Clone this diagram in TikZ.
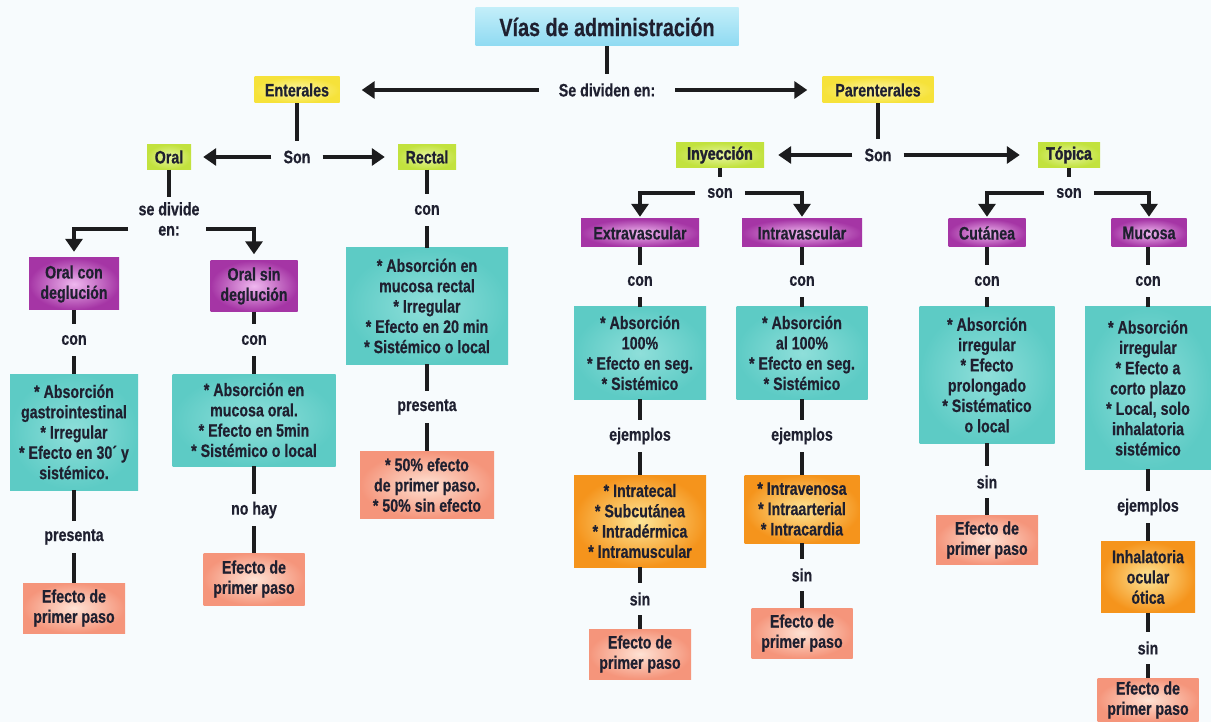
\documentclass[tikz,border=0pt]{standalone}
\usepackage{fontspec}
\setmainfont[FakeStretch=0.79,FakeBold=0.5]{Liberation Sans}
\newfontfamily\negrita[FakeStretch=0.79,FakeBold=2]{Liberation Sans}
\usetikzlibrary{arrows.meta}

\definecolor{fondo}{HTML}{F7FBFD}
\definecolor{texto}{HTML}{1F2030}
\definecolor{negro}{HTML}{1C1C1E}
\definecolor{tituloA}{HTML}{C2EEF9}
\definecolor{tituloB}{HTML}{8FDAF2}
\definecolor{amarilloC}{HTML}{FDF6A6}
\definecolor{amarilloB}{HTML}{F6E23A}
\definecolor{verdeC}{HTML}{E8F6A4}
\definecolor{verdeB}{HTML}{C2E23E}
\definecolor{moradoC}{HTML}{EFB8EF}
\definecolor{moradoB}{HTML}{A535A5}
\definecolor{turquesaC}{HTML}{8FDFDA}
\definecolor{turquesaB}{HTML}{5DCBC5}
\definecolor{naranjaC}{HTML}{FDE596}
\definecolor{naranjaB}{HTML}{F5941C}
\definecolor{salmonC}{HTML}{FEE2D4}
\definecolor{salmonB}{HTML}{F5957B}

\begin{document}
\begin{tikzpicture}[x=1pt,y=-1pt,
        caja/.style={rectangle,align=center,text=texto,inner sep=2pt,
            font=\bfseries\fontsize{18}{20.3}\selectfont},
        titulo/.style={caja,top color=tituloA,bottom color=tituloB,
            font=\bfseries\fontsize{25}{27}\selectfont},
        amarillo/.style={caja,inner color=amarilloC,outer color=amarilloB},
        verde/.style={caja,inner color=verdeC,outer color=verdeB},
        morado/.style={caja,inner color=moradoC,outer color=moradoB},
        turquesa/.style={caja,inner color=turquesaC,outer color=turquesaB},
        naranja/.style={caja,inner color=naranjaC,outer color=naranjaB},
        salmon/.style={caja,inner color=salmonC,outer color=salmonB},
        rotulo/.style={align=center,text=texto,inner xsep=12pt,inner ysep=0pt,
            minimum height=32pt,font=\bfseries\fontsize{18}{20.3}\selectfont},
        linea/.style={draw=negro,line width=4.5pt},
        flecha/.style={linea,-{Triangle[length=13pt,width=17pt]},shorten >=13pt}]

\useasboundingbox (0,0) rectangle (1211,722);
\fill[fondo] (0,0) rectangle (1211,722);

\node[titulo,minimum width=263pt,minimum height=38pt] (titulo) at (607,27) {Vías de administración};
\node[rotulo,inner xsep=20pt] (sediv) at (607,90) {Se dividen en:};
\node[amarillo,minimum width=85pt,minimum height=26pt] (enterales) at (297,90) {Enterales};
\node[amarillo,minimum width=111pt,minimum height=26pt] (parenterales) at (878,90) {Parenterales};

\node[rotulo] (son1) at (297,157) {Son};
\node[verde,minimum width=44pt,minimum height=25pt] (oral) at (169,157) {Oral};
\node[verde,minimum width=58pt,minimum height=25pt] (rectal) at (427,157) {Rectal};
\node[rotulo] (son2) at (878,155) {Son};
\node[verde,minimum width=88pt,minimum height=25pt,font=\negrita\bfseries\fontsize{18}{20}\selectfont] (inyeccion) at (720,155) {Inyección};
\node[verde,minimum width=62pt,minimum height=25pt,font=\negrita\bfseries\fontsize{18}{20}\selectfont] (topica) at (1069,155) {Tópica};

% enterales
\node[rotulo,inner ysep=5pt,minimum height=0pt] (sedivide) at (169,219) {se divide\\en:};
\coordinate (sdL) at (128,229);
\coordinate (sdR) at (206,229);
\node[morado,minimum width=90pt,minimum height=52pt] (oralcon) at (74,284) {Oral con\\deglución};
\node[morado,minimum width=87pt,minimum height=51pt] (oralsin) at (254,286) {Oral sin\\deglución};

\node[rotulo] (conA) at (74,340) {con};
\node[turquesa,minimum width=128pt,minimum height=116pt] (datosA) at (74,432) {* Absorción\\gastrointestinal\\* Irregular\\* Efecto en 30´ y\\sistémico.};
\node[rotulo] (presA) at (74,537) {presenta};
\node[salmon,minimum width=102pt,minimum height=50pt] (efectoA) at (74,608) {Efecto de\\primer paso};

\node[rotulo] (conB) at (254,340) {con};
\node[turquesa,minimum width=163pt,minimum height=92pt] (datosB) at (254,420) {* Absorción en\\mucosa oral.\\* Efecto en 5min\\* Sistémico o local};
\node[rotulo] (nohay) at (254,510) {no hay};
\node[salmon,minimum width=101pt,minimum height=52pt] (efectoB) at (254,579) {Efecto de\\primer paso};

\node[rotulo] (conC) at (427,210) {con};
\node[turquesa,minimum width=162pt,minimum height=116pt] (datosC) at (427,306) {* Absorción en\\mucosa rectal\\* Irregular\\* Efecto en 20 min\\* Sistémico o local};
\node[rotulo] (presC) at (427,407) {presenta};
\node[salmon,minimum width=134pt,minimum height=67pt] (efectoC) at (427,485) {* 50\% efecto\\de primer paso.\\* 50\% sin efecto};

% parenterales
\node[rotulo] (son3) at (720,193) {son};
\node[rotulo] (son4) at (1069,193) {son};
\node[morado,minimum width=118pt,minimum height=28pt] (extra) at (640,233) {Extravascular};
\node[morado,minimum width=120pt,minimum height=28pt] (intra) at (802,233) {Intravascular};
\node[morado,minimum width=77pt,minimum height=28pt] (cutanea) at (987,233) {Cutánea};
\node[morado,minimum width=75pt,minimum height=28pt] (mucosa) at (1149,233) {Mucosa};

\node[rotulo] (conD) at (640,281) {con};
\node[turquesa,minimum width=132pt,minimum height=92pt] (datosD) at (640,353) {* Absorción\\100\%\\* Efecto en seg.\\* Sistémico};
\node[rotulo] (ejD) at (640,436) {ejemplos};
\node[naranja,minimum width=132pt,minimum height=92pt] (tiposD) at (640,521) {* Intratecal\\* Subcutánea\\* Intradérmica\\* Intramuscular};
\node[rotulo] (sinD) at (640,599) {sin};
\node[salmon,minimum width=102pt,minimum height=50pt] (efectoD) at (640,654) {Efecto de\\primer paso};

\node[rotulo] (conE) at (802,281) {con};
\node[turquesa,minimum width=131pt,minimum height=92pt] (datosE) at (802,353) {* Absorción\\al 100\%\\* Efecto en seg.\\* Sistémico};
\node[rotulo] (ejE) at (802,436) {ejemplos};
\node[naranja,minimum width=115pt,minimum height=68pt] (tiposE) at (802,509) {* Intravenosa\\* Intraarterial\\* Intracardia};
\node[rotulo] (sinE) at (802,575) {sin};
\node[salmon,minimum width=101pt,minimum height=50pt] (efectoE) at (802,633) {Efecto de\\primer paso};

\node[rotulo] (conF) at (987,281) {con};
\node[turquesa,minimum width=135pt,minimum height=136pt] (datosF) at (987,375) {* Absorción\\irregular\\* Efecto\\prolongado\\* Sistématico\\o local};
\node[rotulo] (sinF) at (987,482) {sin};
\node[salmon,minimum width=102pt,minimum height=49pt] (efectoF) at (987,540) {Efecto de\\primer paso};

\node[rotulo] (conG) at (1148,281) {con};
\node[turquesa,minimum width=126pt,minimum height=162pt] (datosG) at (1148,388) {* Absorción\\irregular\\* Efecto a\\corto plazo\\* Local, solo\\inhalatoria\\sistémico};
\node[rotulo] (ejG) at (1148,507) {ejemplos};
\node[naranja,minimum width=94pt,minimum height=71pt] (tiposG) at (1148,577) {Inhalatoria\\ocular\\ótica};
\node[rotulo] (sinG) at (1148,648) {sin};
\node[salmon,minimum width=101pt,minimum height=44pt] (efectoG) at (1148,700) {Efecto de\\primer paso};

% conectores
\draw[linea] (titulo) -- (sediv);
\draw[flecha,shorten >=22pt] (sediv) -- (enterales);
\draw[flecha,shorten >=15pt] (sediv) -- (parenterales);

\draw[linea] (enterales) -- (son1);
\draw[flecha,shorten >=12pt] (son1) -- (oral);
\draw[flecha] (son1) -- (rectal);
\draw[linea] (parenterales) -- (son2);
\draw[flecha,shorten >=14pt] (son2) -- (inyeccion);
\draw[flecha,shorten >=18pt] (son2) -- (topica);

\draw[linea] (oral) -- (sedivide);
\draw[flecha,shorten >=6pt] (sdL) -| (oralcon.north);
\draw[flecha,shorten >=6pt] (sdR) -| (oralsin.north);
\draw[linea] (oralcon) -- (conA);
\draw[linea] (conA) -- (datosA);
\draw[linea] (datosA) -- (presA);
\draw[linea] (presA) -- (efectoA);
\draw[linea] (oralsin) -- (conB);
\draw[linea] (conB) -- (datosB);
\draw[linea] (datosB) -- (nohay);
\draw[linea] (nohay) -- (efectoB);
\draw[linea] (rectal) -- (conC);
\draw[linea] (conC) -- (datosC);
\draw[linea] (datosC) -- (presC);
\draw[linea] (presC) -- (efectoC);

\draw[linea] (inyeccion) -- (son3);
\draw[flecha,shorten >=2pt] (son3.west) -| (extra.north);
\draw[flecha,shorten >=2pt] (son3.east) -| (intra.north);
\draw[linea] (topica) -- (son4);
\draw[flecha,shorten >=2pt] (son4.west) -| (cutanea.north);
\draw[flecha,shorten >=2pt] (son4.east) -| (mucosa.north);

\draw[linea] (extra) -- (conD);
\draw[linea] (conD) -- (datosD);
\draw[linea] (datosD) -- (ejD);
\draw[linea] (ejD) -- (tiposD);
\draw[linea] (tiposD) -- (sinD);
\draw[linea] (sinD) -- (efectoD);
\draw[linea] (intra) -- (conE);
\draw[linea] (conE) -- (datosE);
\draw[linea] (datosE) -- (ejE);
\draw[linea] (ejE) -- (tiposE);
\draw[linea] (tiposE) -- (sinE);
\draw[linea] (sinE) -- (efectoE);
\draw[linea] (cutanea) -- (conF);
\draw[linea] (conF) -- (datosF);
\draw[linea] (datosF) -- (sinF);
\draw[linea] (sinF) -- (efectoF);
\draw[linea] (mucosa.south -| conG) -- (conG);
\draw[linea] (conG) -- (datosG);
\draw[linea] (datosG) -- (ejG);
\draw[linea] (ejG) -- (tiposG);
\draw[linea] (tiposG) -- (sinG);
\draw[linea] (sinG) -- (efectoG);
\end{tikzpicture}
\end{document}
